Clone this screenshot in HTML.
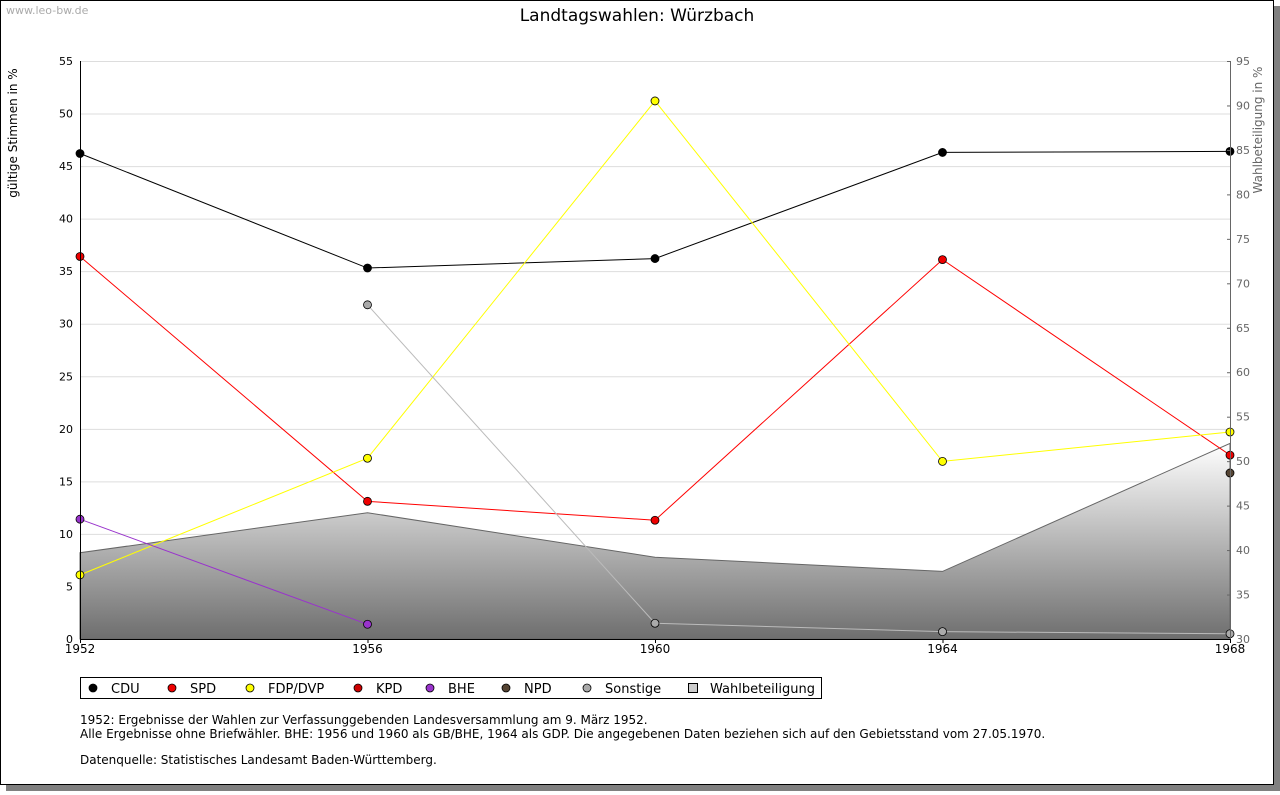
<!DOCTYPE html>
<html><head><meta charset="utf-8"><style>
body{margin:0;background:#fff;font-family:"DejaVu Sans","Liberation Sans",sans-serif}
svg text{font-family:"DejaVu Sans","Liberation Sans",sans-serif}
</style></head><body>
<svg id="c" width="1280" height="791" xmlns="http://www.w3.org/2000/svg">
<defs><linearGradient id="g" x1="0" y1="0" x2="0" y2="1"><stop offset="0" stop-color="#ffffff"/><stop offset="1" stop-color="#6e6e6e"/></linearGradient></defs>
<rect x="6" y="6" width="1274" height="785" fill="#808080"/>
<rect x="0.5" y="0.5" width="1273" height="784" fill="#fff" stroke="#000"/>
<text x="6" y="14" font-size="11" fill="#aaa">www.leo-bw.de</text>
<text x="637" y="21" font-size="17" text-anchor="middle">Landtagswahlen: Würzbach</text>
<text transform="translate(17,133) rotate(-90)" font-size="12" text-anchor="middle">gültige Stimmen in %</text>
<text transform="translate(1262,130) rotate(-90)" font-size="12" fill="#666" text-anchor="middle">Wahlbeteiligung in %</text>
<g id="grid"></g><g id="area"></g><g id="lines"></g><g id="axes"></g>
<rect x="80.5" y="677.5" width="741" height="21" fill="#fff" stroke="#000"/>
<g id="legend"></g>
<text font-size="12"><tspan x="80" y="724">1952: Ergebnisse der Wahlen zur Verfassunggebenden Landesversammlung am 9. März 1952.</tspan><tspan x="80" y="738">Alle Ergebnisse ohne Briefwähler. BHE: 1956 und 1960 als GB/BHE, 1964 als GDP. Die angegebenen Daten beziehen sich auf den Gebietsstand vom 27.05.1970.</tspan><tspan x="80" y="764">Datenquelle: Statistisches Landesamt Baden-Württemberg.</tspan></text>
</svg>
<script>
const years=[1952,1956,1960,1964,1968];
const cdu=[46.2,35.3,36.2,46.3,46.4];
const spd=[36.4,13.1,11.3,36.1,17.5];
const fdp=[6.1,17.2,51.2,16.9,19.7];
const kpd=[null,null,null,null,null];
const bhe=[11.4,1.4,null,null,null];
const npd=[null,null,null,null,15.8];
const sonst=[null,31.8,1.5,0.7,0.5];
const turnout=[39.7,44.2,39.2,37.6,52.0];
const leftTicks=[0,5,10,15,20,25,30,35,40,45,50,55];
const rightTicks=[30,35,40,45,50,55,60,65,70,75,80,85,90,95];
const NS="http://www.w3.org/2000/svg";
const X=y=>80+(y-1952)/(1968-1952)*1150;
const Y=v=>639-v/55*578;
const Y2=v=>639-(v-30)/65*578;
function mk(t,a,p){const e=document.createElementNS(NS,t);for(const k in a)e.setAttribute(k,a[k]);document.getElementById(p).appendChild(e);return e;}
leftTicks.forEach(t=>{
 const l=mk('line',{x1:80,x2:1230,y1:Y(t)+.5,y2:Y(t)+.5,stroke:'#ddd'},'grid');
 
 
 const tx=mk('text',{x:73,y:Y(t)+4,'font-size':11,'text-anchor':'end'},'axes');tx.textContent=t;
 
 
});
rightTicks.forEach(t=>{
 const tx=mk('text',{x:1236,y:Y2(t)+4,'font-size':11,fill:'#666'},'axes');tx.textContent=t;
 
 
 mk('line',{x1:1227,x2:1230,y1:Y2(t)+.5,y2:Y2(t)+.5,stroke:'#666'},'axes');
});
years.forEach(y=>{
 const tx=mk('text',{x:X(y),y:653,'font-size':12,'text-anchor':'middle'},'axes');tx.textContent=y;
 
 
 mk('line',{x1:X(y)+.5,x2:X(y)+.5,y1:639,y2:643,stroke:'#000'},'axes');
});
let d='M'+X(years[0])+','+639;years.forEach((y,i)=>d+=' L'+X(y)+','+Y2(turnout[i]));d+=' L'+X(1968)+',639Z';
const ar=mk('path',{d:d,fill:'url(#g)',stroke:'#666'},'area');


mk('line',{x1:80.5,x2:80.5,y1:61,y2:639,stroke:'#000'},'axes');
mk('line',{x1:1230.5,x2:1230.5,y1:61,y2:639,stroke:'#666'},'axes');
mk('line',{x1:80,x2:1230,y1:639.5,y2:639.5,stroke:'#000'},'axes');
const series=[['cdu',cdu,'#000','#000'],['spd',spd,'#f00','#e00'],['fdp',fdp,'#ff0','#ff0'],['kpd',kpd,'#c00','#c00'],['bhe',bhe,'#93c','#93c'],['npd',npd,'#543','#543'],['sonstige',sonst,'#bbb','#aaa']];
series.forEach(([n,v,c,f])=>{
 let pts=[];v.forEach((val,i)=>{if(val!=null)pts.push(X(years[i])+','+Y(val));});
 if(pts.length>1){const pl=mk('polyline',{points:pts.join(' '),fill:'none',stroke:c,'stroke-width':1},'lines');
 
 }
 v.forEach((val,i)=>{if(val==null)return;
  const m=mk('circle',{cx:X(years[i]),cy:Y(val),r:4,fill:f,stroke:'#000','stroke-width':.8},'lines');
  
  });
});
const leg=[['CDU','#000',93],['SPD','#e00',172],['FDP/DVP','#ff0',250],['KPD','#c00',358],['BHE','#93c',430],['NPD','#543',506],['Sonstige','#aaa',587]];
leg.forEach(([t,c,x])=>{
 mk('circle',{cx:x,cy:688,r:4,fill:c,stroke:'#000','stroke-width':.8},'legend');
 const tx=mk('text',{x:x+18,y:693,'font-size':13},'legend');tx.textContent=t;
 
 
});
mk('rect',{x:688.5,y:683.5,width:9,height:9,fill:'#ccc',stroke:'#000'},'legend');
const wt=mk('text',{x:710,y:693,'font-size':13},'legend');wt.textContent='Wahlbeteiligung';


</script>
</body></html>
